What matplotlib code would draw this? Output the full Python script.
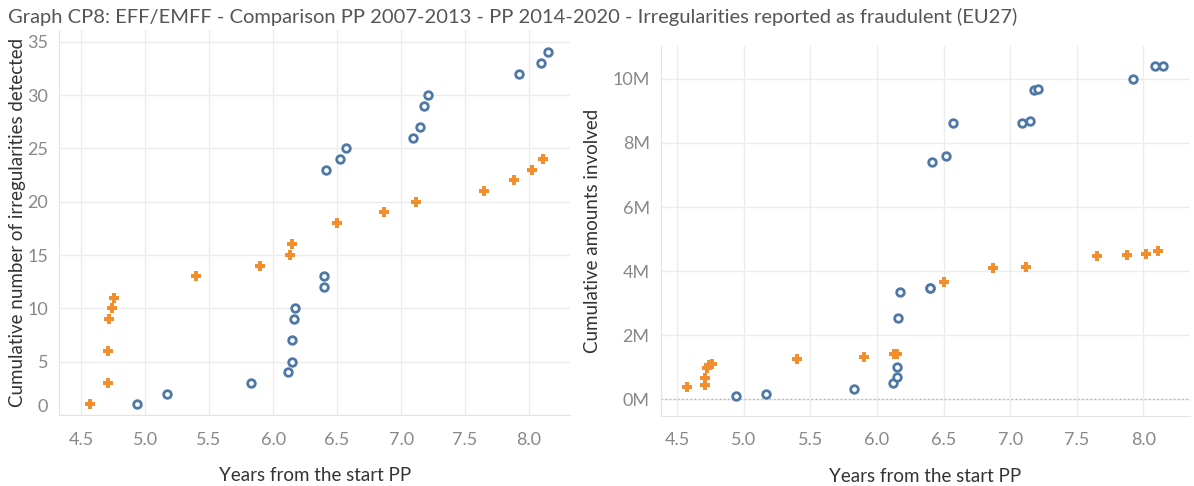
import numpy as np
import matplotlib.pyplot as plt
from matplotlib.ticker import FuncFormatter, FixedLocator

plt.rcParams['font.family'] = ['Lato', 'DejaVu Sans']

# PP 2007-2013 (blue) : years from start, cumulative count, cumulative amount (EUR)
years_0713 = [4.94, 5.17, 5.83, 6.12, 6.15, 6.15, 6.16, 6.17, 6.40, 6.40,
              6.41, 6.52, 6.57, 7.09, 7.15, 7.18, 7.21, 7.92, 8.09, 8.15]
count_0713 = [1, 2, 3, 4, 5, 7, 9, 10, 12, 13,
              23, 24, 25, 26, 27, 29, 30, 32, 33, 34]
amount_0713 = [80e3, 160e3, 310e3, 490e3, 680e3, 990e3, 2.53e6, 3.35e6, 3.46e6, 3.48e6,
               7.40e6, 7.58e6, 8.64e6, 8.64e6, 8.69e6, 9.65e6, 9.70e6, 10.0e6, 10.41e6, 10.41e6]

# PP 2014-2020 (orange)
years_1420 = [4.57, 4.71, 4.71, 4.72, 4.74, 4.76, 5.40, 5.90, 6.13, 6.15,
              6.50, 6.87, 7.12, 7.65, 7.88, 8.02, 8.11]
count_1420 = [1, 3, 6, 9, 10, 11, 13, 14, 15, 16,
              18, 19, 20, 21, 22, 23, 24]
amount_1420 = [390e3, 440e3, 650e3, 960e3, 1.06e6, 1.11e6, 1.25e6, 1.30e6, 1.41e6, 1.41e6,
               3.67e6, 4.08e6, 4.12e6, 4.46e6, 4.50e6, 4.54e6, 4.61e6]

x_ticks = [4.5, 5.0, 5.5, 6.0, 6.5, 7.0, 7.5, 8.0]
count_ticks = [0, 5, 10, 15, 20, 25, 30, 35]
amount_ticks = [0, 2e6, 4e6, 6e6, 8e6, 10e6]

title = ("Graph CP8: EFF/EMFF - Comparison PP 2007-2013 - PP 2014-2020 - "
         "Irregularities reported as fraudulent (EU27)")

BLUE = '#4e79a7'
ORANGE = '#f28e2b'
GRID = '#ececec'
TICK = '#888888'
LABEL = '#333333'

fig = plt.figure(figsize=(11.94, 4.86), dpi=100)
ax1 = fig.add_axes([0.0497, 0.1461, 0.4277, 0.7922])
ax2 = fig.add_axes([0.5534, 0.1447, 0.4432, 0.7606])


def style(ax):
    ax.set_xticks(x_ticks)
    ax.xaxis.set_major_formatter(FuncFormatter(lambda v, p: f'{v:.1f}'))
    ax.grid(True, color=GRID, linewidth=1)
    ax.set_axisbelow(True)
    for s in ax.spines.values():
        s.set_visible(False)
    for s in ('left', 'bottom'):
        ax.spines[s].set_visible(True)
        ax.spines[s].set_color('#e4e4e4')
    ax.tick_params(length=0, labelsize=13, labelcolor=TICK, pad=8)
    ax.tick_params(axis='x', pad=12)
    ax.set_xlabel('Years from the start PP', fontsize=13.5, color=LABEL, labelpad=14)


def draw(ax, y_blue, y_orange):
    ax.scatter(years_0713, y_blue, s=30, facecolors='white', edgecolors=BLUE,
               linewidths=2, zorder=3)
    ax.scatter(years_1420, y_orange, s=45, marker='P', color=ORANGE,
               linewidths=0, zorder=3)


# left: number of irregularities
draw(ax1, count_0713, count_1420)
style(ax1)
ax1.set_xlim(4.33, 8.32)
ax1.set_ylim(0, 36.1)
ax1.yaxis.set_major_locator(FixedLocator(count_ticks))
ax1.set_ylabel('Cumulative number of irregularities detected', fontsize=13.5,
               color=LABEL, labelpad=1)
fig.canvas.draw()
ax1.yaxis.get_major_ticks()[0].label1.set_verticalalignment('bottom')

# right: amounts involved
draw(ax2, amount_0713, amount_1420)
style(ax2)
ax2.set_xlim(4.376, 8.35)
ax2.set_ylim(-0.52e6, 11.03e6)
ax2.yaxis.set_major_locator(FixedLocator(amount_ticks))
ax2.yaxis.set_major_formatter(FuncFormatter(lambda v, p: f'{v / 1e6:.0f}M'))
ax2.axhline(0, color='#b0b0b0', linestyle=(0, (1, 2)), linewidth=1, zorder=1)
ax2.set_ylabel('Cumulative amounts involved', fontsize=13.5, color=LABEL, labelpad=8)

fig.text(0.0067, 0.965, title, fontsize=14.5, color='#555555', va='center')

fig.savefig('out.png', dpi=100)
